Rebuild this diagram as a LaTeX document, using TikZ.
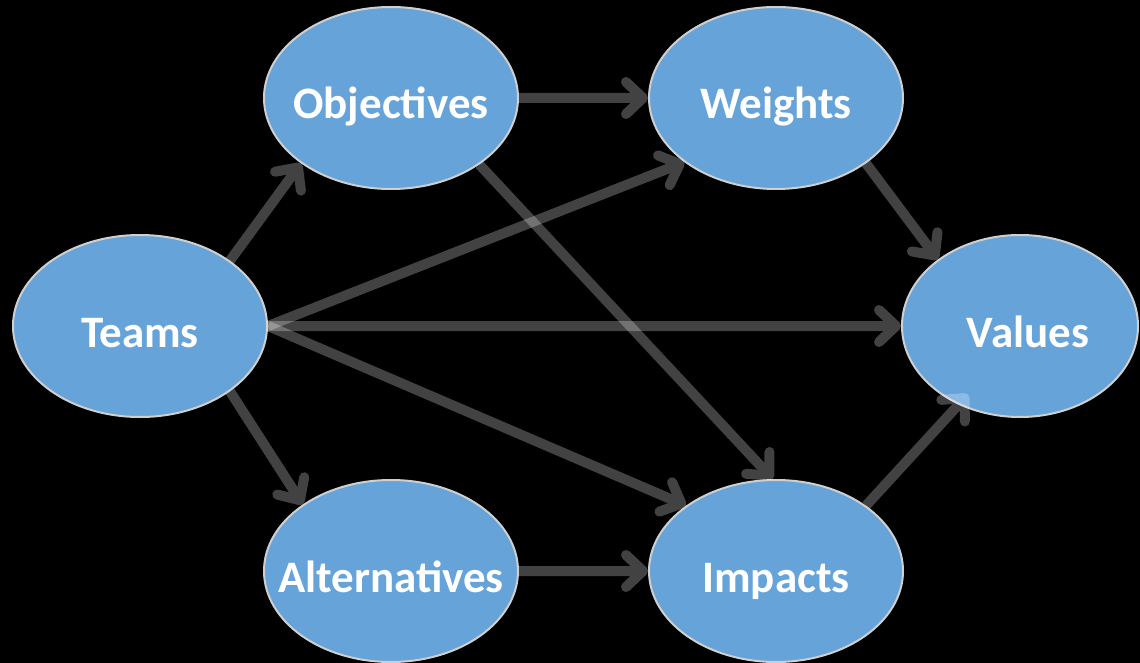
\documentclass[tikz,border=0pt]{standalone}
\usepackage{fontspec}
\setmainfont{Carlito}
\usetikzlibrary{shapes.geometric,arrows.meta}
\definecolor{nodeblue}{HTML}{66A3D8}
\definecolor{nodeedge}{HTML}{CFCFCF}
\newcommand{\lbl}[1]{\makebox[0pt]{\raisebox{-21pt}[0pt][0pt]{#1}}}
\tikzset{
  ell/.style={ellipse, fill=nodeblue, draw=nodeedge, line width=2pt,
    minimum width=254pt, minimum height=182pt, inner sep=0pt,
    text=white, font=\bfseries\fontsize{45}{52}\selectfont},
  conn/.style={draw=white, line width=10pt,
    -{Straight Barb[length=17pt,width=32pt,line cap=round,line join=round]}},
}
\newcommand{\arr}[3][]{%
  \begin{scope}[transparency group, opacity=0.26]
    \draw[conn,#1] (#2) -- (#3);
  \end{scope}}
\begin{document}
\begin{tikzpicture}[x=1pt,y=-1pt]
\fill[black] (0,0) rectangle (1140,663);
\useasboundingbox (0,0) rectangle (1140,663);
\node[ell] (teams) at (140,326) {\lbl{Teams}};
\node[ell] (obj) at (391,98) {\lbl{Objectives}};
\node[ell] (wts) at (776,98) {\lbl{Weights}};
\node[ell, minimum width=236pt] (vals) at (1020,326) {\lbl{\hspace*{16pt}Values}};
\node[ell] (alt) at (391,571) {\lbl{Alternatives}};
\node[ell] (imp) at (776,571) {\lbl{Impacts}};
\arr{teams.36}{obj.216}
\arr{teams.-36}{alt.143}
\arr{obj.east}{wts.west}
\arr{alt.east}{imp.west}
\arr{teams.east}{wts.215}
\arr{teams.east}{vals.west}
\arr{teams.east}{imp.144}
\arr{obj.-37}{imp.92}
\arr{wts.-36}{vals.141}
\arr[shorten >=-14pt]{imp.36}{vals.232}
\end{tikzpicture}
\end{document}
